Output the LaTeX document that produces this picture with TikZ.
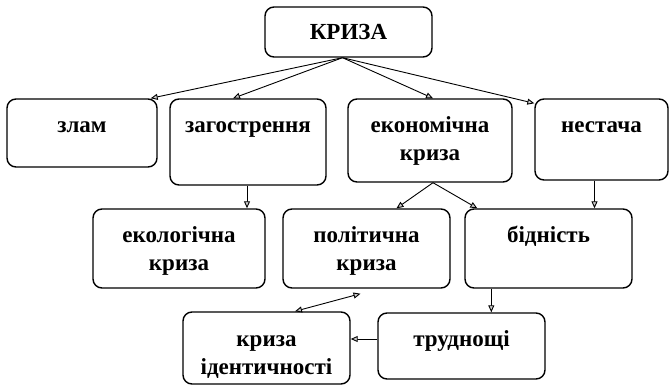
\documentclass[tikz,border=0pt]{standalone}
\usepackage{fontspec}
\setmainfont{Liberation Serif}
\usetikzlibrary{arrows.meta}

\tikzset{
  box/.style={draw, line width=1.4pt, rounded corners=9pt, inner sep=0pt},
  lbl/.style={anchor=base, inner sep=0pt, align=center,
    font=\fontsize{23}{28}\selectfont\bfseries},
  tip/.tip={Triangle[length=7pt,width=6pt,fill=gray!40]},
  arr/.style={line width=0.9pt, -tip},
  dblarr/.style={line width=0.9pt, tip-tip}
}

\begin{document}
\begin{tikzpicture}[x=1pt,y=-1pt]
\useasboundingbox (0,0) rectangle (670,387);
\node[box, minimum width=167pt, minimum height=50pt, font=\fontsize{23}{28}\selectfont\bfseries] (kriza) at (348.5,32) {КРИЗА};
\node[box, minimum width=150pt, minimum height=68pt] (zlam) at (82,133) {};
\node[box, minimum width=156pt, minimum height=86pt] (zagost) at (248,142) {};
\node[box, minimum width=164pt, minimum height=83pt] (ekon) at (430,140.5) {};
\node[box, minimum width=133pt, minimum height=81pt] (nestacha) at (601.5,139.5) {};
\node[box, minimum width=172pt, minimum height=79pt] (ekol) at (179,248.5) {};
\node[box, minimum width=167pt, minimum height=79pt] (polit) at (366.5,248.5) {};
\node[box, minimum width=167pt, minimum height=79pt] (bidn) at (548.5,248.5) {};
\node[box, minimum width=167pt, minimum height=72pt] (identych) at (266.5,348) {};
\node[box, minimum width=167pt, minimum height=66pt] (trudn) at (461.5,346) {};

\node[lbl] at ([yshift=-34pt]zlam.north) {злам};
\node[lbl] at ([yshift=-34pt]zagost.north) {загострення};
\node[lbl] at ([yshift=-62pt]ekon.north) {економічна\\криза};
\node[lbl] at ([yshift=-34pt]nestacha.north) {нестача};
\node[lbl] at ([yshift=-62pt]ekol.north) {екологічна\\криза};
\node[lbl] at ([yshift=-62pt]polit.north) {політична\\криза};
\node[lbl] at ([yshift=-34pt]bidn.north) {бідність};
\node[lbl] at ([yshift=-63pt]identych.north) {криза\\ідентичності};
\node[lbl] at ([yshift=-34pt]trudn.north) {труднощі};

\draw[arr] ([xshift=-6pt]kriza.south) -- ([xshift=-7pt]zlam.north east);
\draw[arr] ([xshift=-6pt]kriza.south) -- ([xshift=-15pt]zagost.north);
\draw[arr] ([xshift=-6pt]kriza.south) -- ([xshift=3pt]ekon.north);
\draw[arr] ([xshift=-6pt]kriza.south) -- ([yshift=-5pt]nestacha.north west);
\draw[arr] ([xshift=-1pt]zagost.south) -- ([xshift=-1pt]zagost.south |- ekol.north);
\draw[arr] ([xshift=3pt]ekon.south) -- ([xshift=30pt]polit.north);
\draw[arr] ([xshift=3pt]ekon.south) -- ([xshift=13pt]bidn.north west);
\draw[arr] ([xshift=-7pt]nestacha.south) -- ([xshift=-7pt]nestacha.south |- bidn.north);
\draw[arr] ([xshift=27pt]bidn.south west) -- ([xshift=27pt]bidn.south west |- trudn.north);
\draw[arr] ([yshift=7pt]trudn.west) -- ([yshift=7pt]trudn.west -| identych.east);
\draw[dblarr] ([xshift=28.5pt]identych.north) -- ([xshift=-6pt,yshift=-5pt]polit.south);
\end{tikzpicture}
\end{document}
